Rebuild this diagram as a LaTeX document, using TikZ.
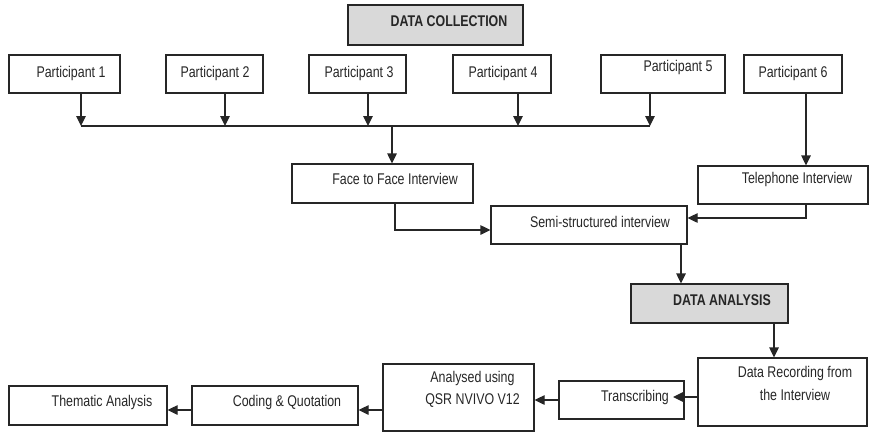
\documentclass[tikz,border=0pt]{standalone}
\usepackage{fontspec}
\setmainfont{Liberation Sans}[FakeStretch=0.8]
\usepackage{xcolor}
\usetikzlibrary{arrows.meta}
\definecolor{hd}{HTML}{D9D9D9}
\definecolor{ink}{HTML}{262626}

\tikzset{
	box/.style={draw=ink, line width=1.2pt, inner sep=0pt},
	txt/.style={text=ink, inner sep=0pt, font=\fontsize{15.5}{22}\selectfont, align=center},
	arr/.style={-{Triangle[length=10pt,width=9.5pt]}, draw=ink, line width=1.2pt},
	ln/.style={draw=ink, line width=1.2pt}
}

\begin{document}
\begin{tikzpicture}[x=1pt,y=-1pt]
	\useasboundingbox (0,0) rectangle (870,432);
	% data collection
	\node [box, fill=hd, minimum width=175pt, minimum height=40pt] (dc) at (435.5,25) {};
	\node [txt, font=\fontsize{15.5}{22}\selectfont\bfseries] (dct) at (449,21) {DATA COLLECTION};

	\node [box, minimum width=111pt, minimum height=38pt] (p1) at (64.5,74) {};
	\node [box, minimum width=97pt, minimum height=38pt] (p2) at (214.5,74) {};
	\node [box, minimum width=97pt, minimum height=38pt] (p3) at (357.5,74) {};
	\node [box, minimum width=98pt, minimum height=38pt] (p4) at (502,74) {};
	\node [box, minimum width=124pt, minimum height=38pt] (p5) at (663,74) {};
	\node [box, minimum width=98pt, minimum height=38pt] (p6) at (793,74) {};
	\node [txt] (p1t) at (71,73) {Participant 1};
	\node [txt] (p2t) at (215,73) {Participant 2};
	\node [txt] (p3t) at (359,73) {Participant 3};
	\node [txt] (p4t) at (503,73) {Participant 4};
	\node [txt] (p5t) at (678,67) {Participant 5};
	\node [txt] (p6t) at (793,73) {Participant 6};

	% bus
	\coordinate (b1) at (81,126);
	\coordinate (b2) at (225,126);
	\coordinate (b3) at (368,126);
	\coordinate (b4) at (518,126);
	\coordinate (b5) at (650,126);
	\coordinate (b0) at (392,126);
	\foreach \i in {1,...,5}
		\draw [arr] (p\i.south -| b\i) -- (b\i);
	\draw [ln] (b1) -- (b5);

	% interviews
	\node [box, minimum width=181pt, minimum height=39pt] (face) at (382.5,183.5) {};
	\node [txt] (facet) at (395,179) {Face to Face Interview};
	\node [box, minimum width=170pt, minimum height=38pt] (tel) at (783,185) {};
	\node [txt] (telt) at (797,179) {Telephone Interview};
	\node [box, minimum width=196pt, minimum height=38pt] (semi) at (589,225) {};
	\node [txt] (semit) at (600,222) {Semi-structured interview};
	\draw [arr] (b0) -- (b0 |- face.north);
	\draw [arr] ([xshift=13pt]p6.south) -- ([xshift=13pt]p6.south |- tel.north);
	\draw [arr] ([xshift=12.5pt]face.south) |- ([yshift=-5pt]semi.west);
	\draw [arr] ([xshift=23pt]tel.south) |- ([yshift=7pt]semi.east);

	% data analysis
	\node [box, fill=hd, minimum width=157pt, minimum height=39pt] (da) at (709.5,303.5) {};
	\node [txt, font=\fontsize{15.5}{22}\selectfont\bfseries] (dat) at (722,300) {DATA ANALYSIS};
	\draw [arr] ([xshift=92pt]semi.south) -- ([xshift=92pt]semi.south |- da.north);

	\node [box, minimum width=169pt, minimum height=68pt] (rec) at (782.5,392) {};
	\node [txt, font=\fontsize{15.5}{23}\selectfont] (rect) at (795,383.5) {Data Recording from\\the Interview};
	\draw [arr] ([xshift=64.5pt]da.south) -- ([xshift=64.5pt]da.south |- rec.north);

	\node [box, minimum width=125pt, minimum height=38pt] (trans) at (621.5,400) {};
	\node [txt] (transt) at (635,397) {Transcribing};
	\coordinate (tr) at (673,397);
	\draw [arr] (rec.west |- tr) -- (tr);

	\node [box, minimum width=151pt, minimum height=67pt] (nv) at (458.5,397.5) {};
	\node [txt] (nvt) at (472.5,389) {Analysed using\\QSR NVIVO V12};
	\draw [arr] (trans.west) -- (trans.west -| nv.east);

	\node [box, minimum width=166pt, minimum height=39pt] (cq) at (275,405.5) {};
	\node [txt] (cqt) at (287,402) {Coding \& Quotation};
	\node [box, minimum width=158pt, minimum height=39pt] (th) at (88,405.5) {};
	\node [txt] (tht) at (102,402) {Thematic Analysis};
	\draw [arr] ([yshift=-4.5pt]cq.east -| nv.west) -- ([yshift=-4.5pt]cq.east);
	\draw [arr] ([yshift=-4.5pt]cq.west) -- ([yshift=-4.5pt]th.east);
\end{tikzpicture}
\end{document}
